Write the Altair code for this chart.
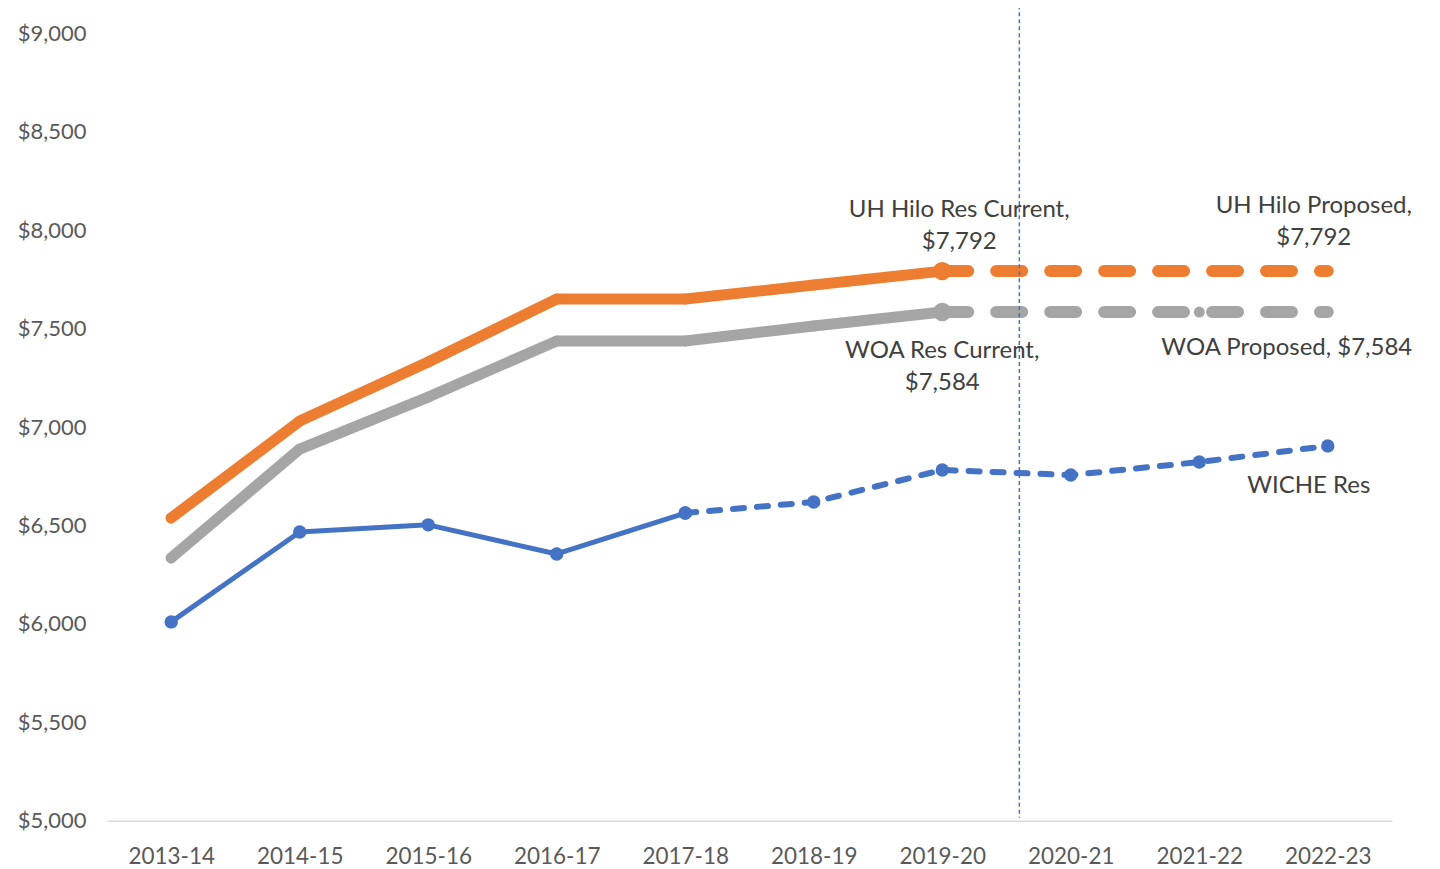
import altair as alt
import pandas as pd

years = ["2013-14", "2014-15", "2015-16", "2016-17", "2017-18",
         "2018-19", "2019-20", "2020-21", "2021-22", "2022-23"]

# UH Hilo resident tuition
uh_current_idx = [0, 1, 2, 3, 4, 5, 6]
uh_current = [6538, 7030, 7330, 7650, 7650, 7721, 7792]
uh_proposed_idx = [6, 7, 8, 9]
uh_proposed = [7792, 7792, 7792, 7792]

# WOA resident tuition
woa_current_idx = [0, 1, 2, 3, 4, 5, 6]
woa_current = [6335, 6888, 7152, 7437, 7437, 7513, 7584]
woa_proposed_idx = [6, 7, 8, 9]
woa_proposed = [7584, 7584, 7584, 7584]

# WICHE resident average
wiche_actual_idx = [0, 1, 2, 3, 4]
wiche_actual = [6010, 6467, 6503, 6355, 6563]
wiche_proj_idx = [4, 5, 6, 7, 8, 9]
wiche_proj = [6563, 6619, 6782, 6756, 6822, 6904]

divider_pos = 6.6
divider_top = 9142
divider_bottom = 5015

ORANGE = "#ED7D31"
GRAY = "#A5A5A5"
BLUE = "#4472C4"
FONT = "Lato"


def frame(idx, vals):
    return pd.DataFrame({"idx": idx, "value": vals})


label_expr = "[" + ",".join("'" + y + "'" for y in years) + "][datum.value]"

x_enc = alt.X(
    "idx:Q",
    scale=alt.Scale(domain=[-0.5, 9.5], nice=False, zero=False),
    axis=alt.Axis(values=list(range(10)), labelExpr=label_expr, grid=False,
                  ticks=False, domainColor="#D9D9D9", domainWidth=1.5,
                  labelFontSize=22.5, labelColor="#595959", labelPadding=25,
                  labelFont=FONT, title=None),
)
y_enc = alt.Y(
    "value:Q",
    scale=alt.Scale(domain=[5000, 9000], nice=False, zero=False),
    axis=alt.Axis(values=list(range(5000, 9001, 500)), format="$,.0f",
                  grid=False, domain=False, ticks=False, labelFontSize=22,
                  labelColor="#595959", labelPadding=21, labelFont=FONT,
                  title=None),
)


def line(df, color, width, dash=None):
    kw = dict(color=color, strokeWidth=width, strokeCap="round", strokeJoin="round")
    if dash:
        kw["strokeDash"] = dash
    return alt.Chart(df).mark_line(**kw).encode(x=x_enc, y=y_enc)


def pts(df, color, size):
    return alt.Chart(df).mark_circle(color=color, size=size, opacity=1).encode(x=x_enc, y=y_enc)


uhc = frame(uh_current_idx, uh_current)
uhp = frame(uh_proposed_idx, uh_proposed)
woc = frame(woa_current_idx, woa_current)
wop = frame(woa_proposed_idx, woa_proposed)
wia = frame(wiche_actual_idx, wiche_actual)
wip = frame(wiche_proj_idx, wiche_proj)

layers = [
    line(wia, BLUE, 5),
    line(wip, BLUE, 6, [11, 13]),
    pts(wia, BLUE, 180),
    pts(wip, BLUE, 180),
    line(woc, GRAY, 11),
    pts(woc.iloc[:-1], GRAY, 120),
    line(wop, GRAY, 12, [26, 28]),
    pts(wop, GRAY, 120),
    pts(woc.iloc[-1:], GRAY, 340),
    line(uhc, ORANGE, 11),
    pts(uhc.iloc[:-1], ORANGE, 120),
    line(uhp, ORANGE, 12, [26, 28]),
    pts(uhc.iloc[-1:], ORANGE, 340),
]


def label(idx, val, text, dx, dy):
    df = pd.DataFrame({"idx": [idx], "value": [val], "t": [text]})
    return alt.Chart(df).mark_text(
        font=FONT, fontSize=24, color="#404040", align="center",
        baseline="middle", lineBreak="\n", lineHeight=32, dx=dx, dy=dy,
    ).encode(x=x_enc, y=y_enc, text="t:N")


layers += [
    label(6, uh_current[-1], "UH Hilo Res Current,\n$7,792", 17, -61),
    label(9, uh_proposed[-1], "UH Hilo Proposed,\n$7,792", -14, -65),
    label(6, woa_current[-1], "WOA Res Current,\n$7,584", 0, 39),
    label(9, woa_proposed[-1], "WOA Proposed, $7,584", -41, 36),
    label(9, wiche_proj[-1], "WICHE Res", -19, 40),
]

div_df = pd.DataFrame({"idx": [divider_pos], "value": [divider_top], "value2": [divider_bottom]})
layers.append(
    alt.Chart(div_df).mark_rule(color=BLUE, strokeWidth=1.5, strokeDash=[4, 3]).encode(
        x=x_enc, y=y_enc, y2="value2:Q")
)

chart = alt.layer(*layers).properties(
    width=1286, height=788,
    background="white",
    autosize=alt.AutoSizeParams(type="none"),
    padding={"left": 99, "top": 25, "right": 40, "bottom": 47},
).configure_view(stroke=None)

chart.save("out.html", embed_options={"renderer": "svg", "actions": False})
